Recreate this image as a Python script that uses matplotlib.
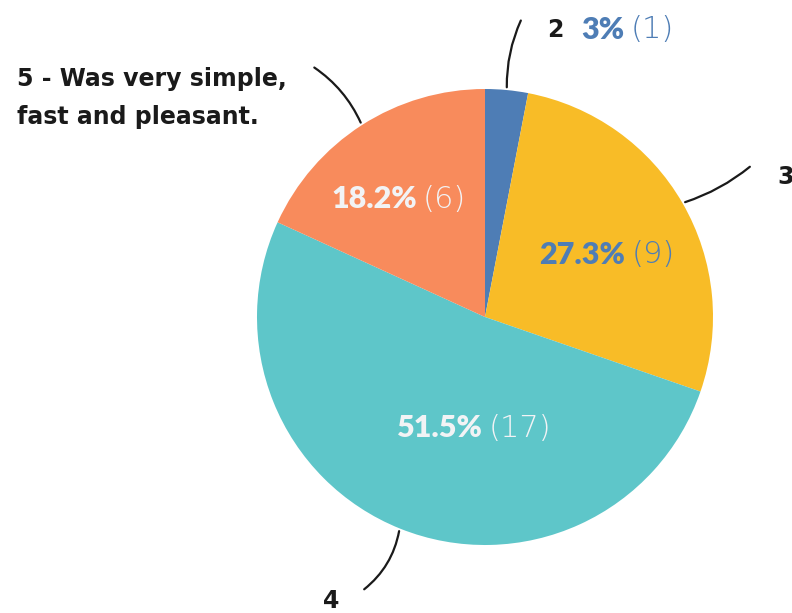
import numpy as np
import matplotlib.pyplot as plt

# survey answers (score -> responses)
labels = ['2', '3', '4', '5 - Was very simple,\nfast and pleasant.']
counts = [1, 9, 17, 6]
colors = ['#4e7db5', '#f8bc27', '#5ec6c9', '#f88b5c']
pct_colors = ['#4e7db5', '#4e7db5', '#f2f3f5', '#f2f3f5']

W, H = 792, 613
cx, cy, R = 485, H - 317, 228

fig = plt.figure(figsize=(W / 100, H / 100), dpi=100)
ax = fig.add_axes([0, 0, 1, 1])
wedges, _ = ax.pie(counts, colors=colors, startangle=90, counterclock=False,
                   center=(cx, cy), radius=R, wedgeprops=dict(linewidth=0))
ax.set_xlim(0, W)
ax.set_ylim(0, H)
ax.set_aspect('equal')
ax.axis('off')

total = sum(counts)


def fmt_pct(v):
    s = f'{100 * v / total:.1f}'
    if s.endswith('.0'):
        s = s[:-2]
    return s + '%'


renderer = fig.canvas.get_renderer()


def pair_text(x, y, bold, light, color, size=22, ha='center'):
    t1 = ax.text(x, y, bold, fontsize=size, fontweight='heavy', family='Lato',
                 color=color, ha='left', va='center')
    t2 = ax.text(x, y, light, fontsize=size, fontweight=200, family='DejaVu Sans',
                 color=color, ha='left', va='center')
    w1 = t1.get_window_extent(renderer).width
    w2 = t2.get_window_extent(renderer).width
    gap = 6
    x0 = x - (w1 + gap + w2) / 2 if ha == 'center' else x
    t1.set_x(x0)
    t2.set_x(x0 + w1 + gap)


# inside labels: (angle deg, radius fraction); slice 0 goes outside
inside = {1: (27, 0.60), 2: (-95.7, 0.49), 3: (126.3, 0.64)}
for i, (ang, rf) in inside.items():
    a = np.radians(ang)
    pair_text(cx + rf * R * np.cos(a), cy + rf * R * np.sin(a),
              fmt_pct(counts[i]), f'({counts[i]})', pct_colors[i])

# small slice value next to its category label at top
pair_text(581, H - 30, fmt_pct(counts[0]), f'({counts[0]})', pct_colors[0], ha='left')

# category labels with leader lines: anchor angle, line end, text pos, rad
leaders = [
    (84.5, (522, 18), (547, 30), 'left', 0.12),
    (30, (752, 165), (777, 177), 'left', -0.1),
    (-112, (362, 591), (331, 601), 'center', 0.2),
    (122.7, (312, 66), (17, 98), 'left', -0.15),
]
for i, (ang, end, tpos, ha, rad) in enumerate(leaders):
    a = np.radians(ang)
    start = (cx + R * np.cos(a), cy + R * np.sin(a))
    ax.annotate('', xy=start, xytext=(end[0], H - end[1]),
                arrowprops=dict(arrowstyle='-', color='#1a1a1a', lw=1.6,
                                connectionstyle=f'arc3,rad={rad}'))
    ax.text(tpos[0], H - tpos[1], labels[i], fontsize=17, fontweight='bold',
            family='DejaVu Sans', color='#1a1a1a', ha=ha, va='center',
            linespacing=1.75)

plt.savefig('out.png', dpi=100)
